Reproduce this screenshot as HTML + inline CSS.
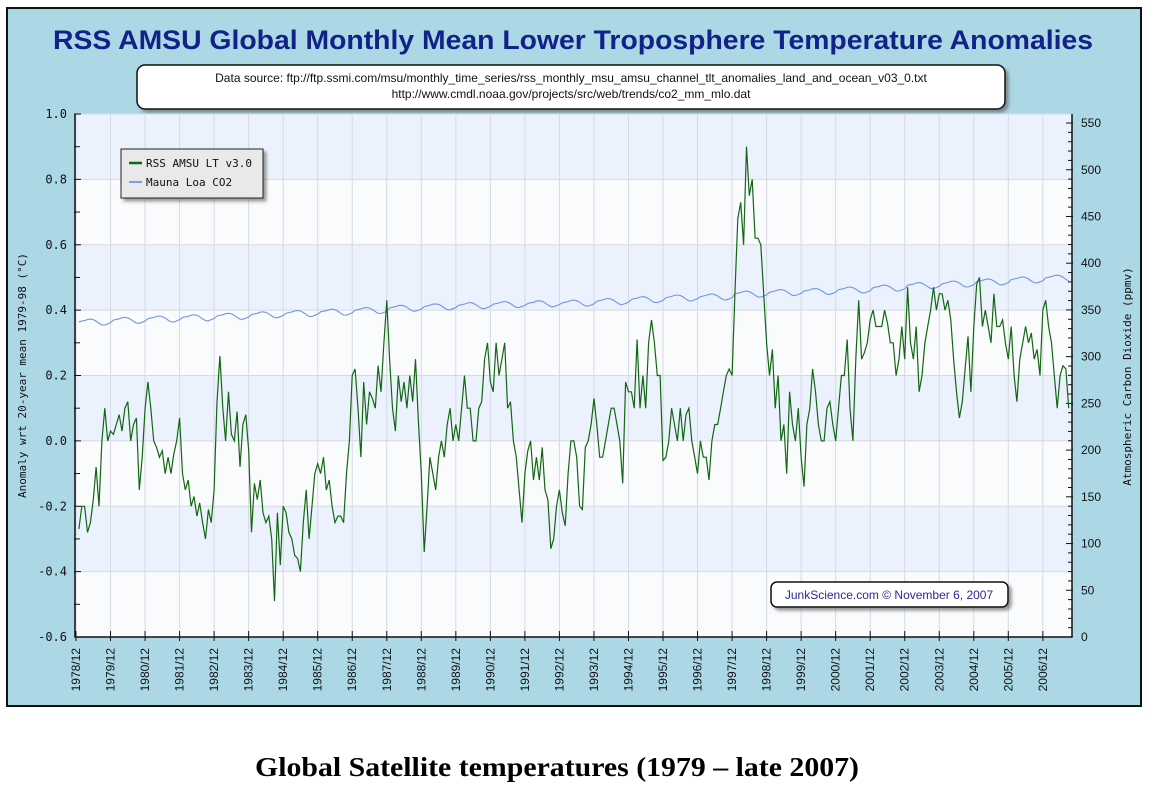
<!DOCTYPE html>
<html><head><meta charset="utf-8"><style>
body{margin:0;background:#fff;}
svg{display:block;font-family:"Liberation Sans",sans-serif;}
.mono{font-family:"DejaVu Sans Mono","Liberation Mono",monospace;}
</style></head><body>
<svg id="chart" width="1160" height="791" viewBox="0 0 1160 791">
<defs>
<filter id="sh" x="-10%" y="-10%" width="130%" height="140%"><feDropShadow dx="3" dy="3" stdDeviation="1.5" flood-color="#555" flood-opacity="0.6"/></filter>
</defs>
<rect x="7" y="8" width="1134" height="698" fill="#acd8e6" stroke="#111" stroke-width="2"/>
<text x="573" y="49" text-anchor="middle" font-size="27" font-weight="bold" fill="#122289" textLength="1040" lengthAdjust="spacingAndGlyphs">RSS AMSU Global Monthly Mean Lower Troposphere Temperature Anomalies</text>
<g>
<rect x="137" y="65" width="868" height="44" rx="8" fill="#fff" stroke="#111" stroke-width="1.5" filter="url(#sh)"/>
<text x="571" y="82" text-anchor="middle" font-size="12" fill="#111">Data source: ftp://ftp.ssmi.com/msu/monthly_time_series/rss_monthly_msu_amsu_channel_tlt_anomalies_land_and_ocean_v03_0.txt</text>
<text x="571" y="98" text-anchor="middle" font-size="12" fill="#111">http://www.cmdl.noaa.gov/projects/src/web/trends/co2_mm_mlo.dat</text>
</g>
<g id="plot"></g>
<g>
<rect x="121" y="149" width="142" height="49" fill="#e9e9e9" stroke="#222" stroke-width="1" filter="url(#sh)"/>
<line x1="129" y1="163" x2="142" y2="163" stroke="#116611" stroke-width="2.5"/>
<text class="mono" x="146" y="167" font-size="11" fill="#111">RSS AMSU LT v3.0</text>
<line x1="129" y1="182" x2="142" y2="182" stroke="#7a9ee6" stroke-width="2"/>
<text class="mono" x="146" y="186" font-size="11" fill="#111">Mauna Loa CO2</text>
</g>
<g>
<rect x="771" y="582" width="237" height="25" rx="6" fill="#fff" stroke="#111" stroke-width="1.5" filter="url(#sh)"/>
<text x="889" y="599" text-anchor="middle" font-size="12" fill="#2a2a99">JunkScience.com © November 6, 2007</text>
</g>
<text x="557" y="776" text-anchor="middle" font-family="'Liberation Serif',serif" font-size="27" font-weight="bold" fill="#000" textLength="604" lengthAdjust="spacingAndGlyphs">Global Satellite temperatures (1979 – late 2007)</text>
</svg>
<script>
const yTicks=["-0.6","-0.4","-0.2","0.0","0.2","0.4","0.6","0.8","1.0"];
const rTicks=["0","50","100","150","200","250","300","350","400","450","500","550"];
const xTicks=["1978/12","1979/12","1980/12","1981/12","1982/12","1983/12","1984/12","1985/12","1986/12","1987/12","1988/12","1989/12","1990/12","1991/12","1992/12","1993/12","1994/12","1995/12","1996/12","1997/12","1998/12","1999/12","2000/12","2001/12","2002/12","2003/12","2004/12","2005/12","2006/12"];
const startYear=1979;
const rss=[
-0.27,-0.2,-0.2,-0.28,-0.25,-0.18,-0.08,-0.2,0.0,0.1,0.0,0.03,
0.02,0.05,0.08,0.03,0.1,0.12,0.0,0.05,0.07,-0.15,-0.05,0.1,
0.18,0.1,0.0,-0.02,-0.05,-0.03,-0.1,-0.05,-0.1,-0.04,0.0,0.07,
-0.1,-0.15,-0.12,-0.2,-0.17,-0.23,-0.19,-0.25,-0.3,-0.21,-0.25,-0.15,
0.12,0.26,0.1,0.0,0.15,0.02,0.0,0.09,-0.08,0.05,0.08,-0.03,
-0.28,-0.13,-0.18,-0.12,-0.22,-0.25,-0.23,-0.3,-0.49,-0.22,-0.38,-0.2,
-0.22,-0.28,-0.3,-0.35,-0.36,-0.4,-0.25,-0.15,-0.3,-0.2,-0.1,-0.07,
-0.1,-0.05,-0.15,-0.12,-0.2,-0.25,-0.23,-0.23,-0.25,-0.1,0.0,0.2,
0.22,0.1,-0.05,0.18,0.05,0.15,0.13,0.1,0.23,0.15,0.3,0.43,
0.25,0.1,0.03,0.2,0.12,0.18,0.1,0.2,0.12,0.25,0.06,-0.1,
-0.34,-0.2,-0.05,-0.1,-0.15,-0.05,0.0,-0.05,0.05,0.1,0.0,0.05,
0.0,0.1,0.2,0.1,0.1,0.0,0.0,0.1,0.12,0.25,0.3,0.18,
0.15,0.3,0.2,0.25,0.3,0.1,0.12,0.0,-0.05,-0.15,-0.25,-0.1,
-0.03,0.0,-0.12,-0.05,-0.12,-0.02,-0.15,-0.18,-0.33,-0.3,-0.2,-0.15,
-0.22,-0.26,-0.1,0.0,0.0,-0.05,-0.2,-0.21,-0.02,0.0,0.05,0.13,
0.05,-0.05,-0.05,0.0,0.05,0.1,0.1,0.05,0.0,-0.13,0.18,0.15,
0.15,0.1,0.31,0.1,0.2,0.1,0.3,0.37,0.3,0.2,0.2,-0.06,
-0.05,0.0,0.1,0.05,0.0,0.1,0.0,0.08,0.1,0.0,-0.05,-0.1,
0.0,-0.05,-0.05,-0.12,0.0,0.05,0.05,0.1,0.15,0.2,0.22,0.2,
0.45,0.68,0.73,0.6,0.9,0.75,0.8,0.62,0.62,0.6,0.45,0.3,
0.2,0.28,0.1,0.2,0.0,0.05,-0.1,0.15,0.05,0.0,0.1,-0.05,
-0.14,0.05,0.1,0.22,0.15,0.05,0.0,0.0,0.1,0.12,0.05,0.0,
0.1,0.2,0.2,0.31,0.1,0.0,0.25,0.43,0.25,0.27,0.3,0.37,
0.4,0.35,0.35,0.35,0.4,0.36,0.3,0.3,0.2,0.25,0.35,0.25,
0.47,0.3,0.25,0.35,0.15,0.2,0.3,0.35,0.4,0.47,0.4,0.45,
0.45,0.4,0.43,0.37,0.25,0.15,0.07,0.12,0.22,0.32,0.15,0.35,
0.48,0.5,0.35,0.4,0.35,0.3,0.45,0.35,0.35,0.37,0.3,0.25,
0.35,0.2,0.12,0.25,0.3,0.35,0.3,0.33,0.25,0.28,0.2,0.4,
0.43,0.35,0.3,0.2,0.1,0.2,0.23,0.22,0.1];
const co2=[
337.3,338.0,338.6,339.8,340.2,339.6,338.0,335.8,334.0,333.8,335.0,336.2,
339.2,339.9,340.5,341.7,342.1,341.5,339.9,337.7,335.9,335.7,336.9,338.1,
340.6,341.3,341.9,343.1,343.5,342.9,341.3,339.1,337.3,337.1,338.3,339.5,
341.9,342.6,343.2,344.4,344.8,344.2,342.6,340.4,338.6,338.4,339.6,340.8,
343.5,344.2,344.8,346.0,346.4,345.8,344.2,342.0,340.2,340.0,341.2,342.4,
345.1,345.8,346.4,347.6,348.0,347.4,345.8,343.6,341.8,341.6,342.8,344.0,
346.5,347.2,347.8,349.0,349.4,348.8,347.2,345.0,343.2,343.0,344.2,345.4,
347.9,348.6,349.2,350.4,350.8,350.2,348.6,346.4,344.6,344.4,345.6,346.8,
349.7,350.4,351.0,352.2,352.6,352.0,350.4,348.2,346.4,346.2,347.4,348.6,
352.1,352.8,353.4,354.6,355.0,354.4,352.8,350.6,348.8,348.6,349.8,351.0,
353.6,354.3,354.9,356.1,356.5,355.9,354.3,352.1,350.3,350.1,351.3,352.5,
354.9,355.6,356.2,357.4,357.8,357.2,355.6,353.4,351.6,351.4,352.6,353.8,
356.1,356.8,357.4,358.6,359.0,358.4,356.8,354.6,352.8,352.6,353.8,355.0,
356.9,357.6,358.2,359.4,359.8,359.2,357.6,355.4,353.6,353.4,354.6,355.8,
357.6,358.3,358.9,360.1,360.5,359.9,358.3,356.1,354.3,354.1,355.3,356.5,
359.3,360.0,360.6,361.8,362.2,361.6,360.0,357.8,356.0,355.8,357.0,358.2,
361.3,362.0,362.6,363.8,364.2,363.6,362.0,359.8,358.0,357.8,359.0,360.2,
363.1,363.8,364.4,365.6,366.0,365.4,363.8,361.6,359.8,359.6,360.8,362.0,
364.2,364.9,365.5,366.7,367.1,366.5,364.9,362.7,360.9,360.7,361.9,363.1,
367.2,367.9,368.5,369.7,370.1,369.5,367.9,365.7,363.9,363.7,364.9,366.1,
368.9,369.6,370.2,371.4,371.8,371.2,369.6,367.4,365.6,365.4,366.6,367.8,
370.1,370.8,371.4,372.6,373.0,372.4,370.8,368.6,366.8,366.6,367.8,369.0,
371.6,372.3,372.9,374.1,374.5,373.9,372.3,370.1,368.3,368.1,369.3,370.5,
373.7,374.4,375.0,376.2,376.6,376.0,374.4,372.2,370.4,370.2,371.4,372.6,
376.3,377.0,377.6,378.8,379.2,378.6,377.0,374.8,373.0,372.8,374.0,375.2,
378.0,378.7,379.3,380.5,380.9,380.3,378.7,376.5,374.7,374.5,375.7,376.9,
380.3,381.0,381.6,382.8,383.2,382.6,381.0,378.8,377.0,376.8,378.0,379.2,
382.4,383.1,383.7,384.9,385.3,384.7,383.1,380.9,379.1,378.9,380.1,381.3,
384.3,385.0,385.6,386.8,387.2,386.6,385.0,382.8,381.0];

const NS='http://www.w3.org/2000/svg';
const L=75,R=1072,T=114,B=637;
const x0=76,pxYear=34.53;
function xScale(yearFrac){return x0+(yearFrac-(startYear-1/12))*pxYear;}
function xMonth(i){return xScale(startYear+i/12);}
function yL(v){return B-(v+0.6)/1.6*(B-T);}
function yR(v){return B-v*0.9345;}
const plot=document.getElementById('plot');
function mk(tag,attrs,parent){const e=document.createElementNS(NS,tag);for(const k in attrs)e.setAttribute(k,attrs[k]);(parent||plot).appendChild(e);return e;}

for(let i=0;i<yTicks.length-1;i++){
  const v0=parseFloat(yTicks[i]),v1=parseFloat(yTicks[i+1]);
  const band=mk('rect',{x:L,y:yL(v1),width:R-L,height:yL(v0)-yL(v1),fill:(i%2===1?'#ecf2fd':'#fafbfd')});
  
  
}
yTicks.forEach(t=>{const g=mk('line',{x1:L,x2:R,y1:yL(parseFloat(t)),y2:yL(parseFloat(t)),stroke:'#d6d9e2','stroke-width':1});
  
  });
xTicks.forEach((t,i)=>{
  const yr=parseInt(t.slice(0,4))+1-1/12;
  const x=xScale(yr);
  const g=mk('line',{x1:x,x2:x,y1:T,y2:B,stroke:'#d6d9e2','stroke-width':1});
  
  
  const tk=mk('line',{x1:x,x2:x,y1:B-6,y2:B+4,stroke:'#111','stroke-width':1});
  
  
  const lb=mk('text',{x:0,y:0,transform:`translate(${x+4},${B+11}) rotate(-90)`,'text-anchor':'end','font-size':'12',fill:'#111'});
  lb.textContent=t;
  
  
});
const axL=mk('line',{x1:L,x2:L,y1:T,y2:B,stroke:'#111','stroke-width':1.5});


const axB=mk('line',{x1:L,x2:R,y1:B,y2:B,stroke:'#111','stroke-width':1.5});


const axR=mk('line',{x1:R,x2:R,y1:T,y2:B,stroke:'#111','stroke-width':1.5});


for(let i=0;i<yTicks.length;i++){
  const v=parseFloat(yTicks[i]);
  const tk=mk('line',{x1:L-1,x2:L+6,y1:yL(v),y2:yL(v),stroke:'#111','stroke-width':1});
  
  
  if(i<yTicks.length-1){const m=mk('line',{x1:L-1,x2:L+5,y1:yL(v+0.1),y2:yL(v+0.1),stroke:'#111','stroke-width':1});
    
    }
  const lb=mk('text',{x:L-8,y:yL(v)+4,'text-anchor':'end','font-size':'12',fill:'#111','class':'mono'});
  lb.textContent=yTicks[i];
  
  
}
rTicks.forEach(t=>{const v=parseFloat(t);
  const tk=mk('line',{x1:R-6,x2:R+1,y1:yR(v),y2:yR(v),stroke:'#111','stroke-width':1});
  
  
  for(let k=1;k<5&&v<550;k++){const m=mk('line',{x1:R-4,x2:R,y1:yR(v+k*10),y2:yR(v+k*10),stroke:'#111','stroke-width':1});
    
    }
  const lb=mk('text',{x:R+9,y:yR(v)+4,'font-size':'12',fill:'#111'});
  lb.textContent=t;
  
  
});
const yt=mk('text',{x:0,y:0,transform:`translate(26,${(T+B)/2}) rotate(-90)`,'text-anchor':'middle','font-size':'11',fill:'#111','class':'mono'});
yt.textContent='Anomaly wrt 20-year mean 1979-98 (°C)';


const rt=mk('text',{x:0,y:0,transform:`translate(1131,${(T+B)/2+1}) rotate(-90)`,'text-anchor':'middle','font-size':'11',fill:'#111','class':'mono'});
rt.textContent='Atmospheric Carbon Dioxide (ppmv)';


const co2Path=mk('path',{d:co2.map((v,i)=>(i?'L':'M')+xMonth(i).toFixed(1)+','+yR(v).toFixed(1)).join(''),fill:'none',stroke:'#7096e4','stroke-width':1.1});


const rssPath=mk('path',{d:rss.map((v,i)=>(i?'L':'M')+xMonth(i).toFixed(1)+','+yL(v).toFixed(1)).join(''),fill:'none',stroke:'#136613','stroke-width':1.2});


</script>
</body></html>
